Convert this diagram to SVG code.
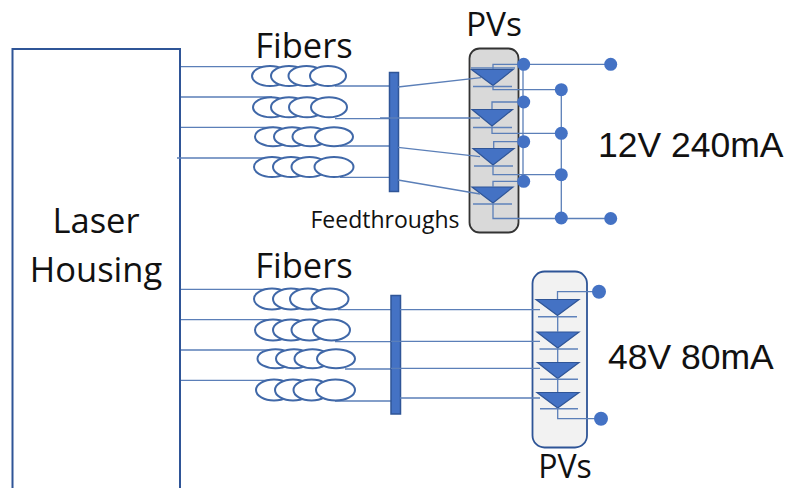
<svg xmlns="http://www.w3.org/2000/svg" width="787" height="488" viewBox="0 0 787 488">
<style>
.t{font-family:"Open Sans","Noto Sans",sans-serif;fill:#111}
.a{font-family:"Liberation Sans",Arial,sans-serif;fill:#111}
.h{fill:none;stroke:#2f5597;stroke-width:2}
.e{fill:#fff;stroke:#4068a8;stroke-width:2}
.w{fill:none;stroke:#5b7fb8;stroke-width:1.3}
.s{fill:none;stroke:#5f82bb;stroke-width:1.4}
.bar{fill:#4472c4;stroke:#2f5597;stroke-width:1.5}
.tri{fill:#4472c4;stroke:#2f5597;stroke-width:1.2}
.d{fill:#4472c4}
</style>
<rect width="787" height="488" fill="#fff"/>
<g id="laser-housing">
<path class="h" d="M180 490V49H12.500V490"/>
<text class="t" x="96" y="233" font-size="34.500" text-anchor="middle">Laser</text>
<text class="t" x="96" y="282" font-size="34.500" text-anchor="middle">Housing</text>
</g>
<g id="connectors">
<g class="w">
<path d="M181 66.700H272M181 97H272M181 127.300H274M177 158H274"/>
<path d="M335 86H389M335 118.700H389M340 146H389M340 177.300H389"/>
<path d="M181 289.300H272M181 319.700H272M181 350H276M181 380.300H276"/>
<path d="M338 309.700H391M335 341.700H391M345 369H391M335 401H391"/>
</g>
</g>
<g id="fibers-top">
<text class="t" x="304" y="58" font-size="34.500" text-anchor="middle">Fibers</text>
<g class="e">
<ellipse cx="270" cy="76" rx="18" ry="10"/><ellipse cx="289" cy="76" rx="18" ry="10"/><ellipse cx="306.500" cy="76" rx="18" ry="10"/><ellipse cx="328" cy="76" rx="18" ry="10"/>
<ellipse cx="271" cy="107.300" rx="18" ry="10"/><ellipse cx="289" cy="107.300" rx="18" ry="10"/><ellipse cx="307" cy="107.300" rx="18" ry="10"/><ellipse cx="329" cy="107.300" rx="18" ry="10"/>
<ellipse cx="273" cy="136.700" rx="18" ry="9.500"/><ellipse cx="292" cy="136.700" rx="18" ry="9.500"/><ellipse cx="310.500" cy="136.700" rx="18" ry="9.500"/><ellipse cx="334" cy="136.700" rx="19" ry="9.500"/>
<ellipse cx="272" cy="167" rx="18" ry="10"/><ellipse cx="291" cy="167" rx="18" ry="10"/><ellipse cx="309.500" cy="167" rx="18" ry="10"/><ellipse cx="334" cy="167" rx="19.500" ry="10"/>
</g>
</g>
<g id="feedthrough-top"><rect class="bar" x="389.500" y="72.500" width="9" height="119"/></g>
<g id="feedthroughs-label"><text class="t" x="385" y="228" font-size="23" text-anchor="middle">Feedthroughs</text></g>
<g id="pv-top">
<rect x="469.500" y="48.500" width="49" height="184" rx="10" fill="#d9d9d9" stroke="#333" stroke-width="1.800"/>
<text class="t" x="494" y="36" font-size="33.500" text-anchor="middle">PVs</text>
<polygon class="tri" points="471.500,69.500 513,69.500 493,85.500"/>
<polygon class="tri" points="472,109.500 512.500,109.500 492,126"/>
<polygon class="tri" points="473,148.500 514,148.500 493,165"/>
<polygon class="tri" points="472,187 513,187 493,203"/>
<g class="s"><path d="M471 68H515M473 86.500H512M473 127.500H512M474 166H513M473 204H512"/></g>
</g>
<g id="fibers-bottom">
<text class="t" x="304" y="278" font-size="34.500" text-anchor="middle">Fibers</text>
<g class="e">
<ellipse cx="272" cy="299" rx="18" ry="10.500"/><ellipse cx="291" cy="299" rx="18" ry="10.500"/><ellipse cx="308" cy="299" rx="18" ry="10.500"/><ellipse cx="330" cy="299" rx="18.500" ry="10.500"/>
<ellipse cx="273" cy="330" rx="18" ry="10.500"/><ellipse cx="291" cy="330" rx="18" ry="10.500"/><ellipse cx="309.500" cy="330" rx="18" ry="10.500"/><ellipse cx="331.500" cy="330" rx="18.500" ry="10.500"/>
<ellipse cx="275.500" cy="358.700" rx="18" ry="9.500"/><ellipse cx="294" cy="358.700" rx="18" ry="9.500"/><ellipse cx="312.500" cy="358.700" rx="18" ry="9.500"/><ellipse cx="336" cy="358.700" rx="19" ry="9.500"/>
<ellipse cx="274" cy="390" rx="18" ry="10.500"/><ellipse cx="293" cy="390" rx="18" ry="10.500"/><ellipse cx="311.500" cy="390" rx="18" ry="10.500"/><ellipse cx="335.500" cy="390" rx="19.500" ry="10.500"/>
</g>
</g>
<g id="feedthrough-bottom"><rect class="bar" x="391" y="295.500" width="9.500" height="118.500"/></g>
<g id="pv-bottom">
<rect x="532.500" y="271.500" width="54.500" height="176" rx="12" fill="#f2f2f2" stroke="#2f5597" stroke-width="1.800"/>
<polygon class="tri" points="536,299.500 579,299.500 557.500,315.500"/>
<polygon class="tri" points="537,332 579,332 557.700,348"/>
<polygon class="tri" points="537.500,362.500 579,362.500 557.700,378.500"/>
<polygon class="tri" points="537,392.500 579,392.500 557.700,408"/>
<g class="s"><path d="M538 316.700H577M539.500 349H578M540 379.300H578M540 408.700H578"/></g>
<text class="t" x="565" y="478" font-size="32" text-anchor="middle">PVs</text>
</g>
<g id="wiring">
<g class="w">
<path d="M398 87L481 77.700M380 118H480M398 147.300L480 156.700M398 180L480 194"/>
<path d="M400 309.700H540M391 341.300H540M391 368.300H540M400 398H540"/>
<path d="M493 69V64.300H611M523 64.300V181.300"/>
<path d="M493 86V89.700H561M492 109V102H524M492 126V133.300H561M493.700 148V141.700H524M493 165V174.700H561M493 187V181.300H524M493 203V218.500H611M561.300 89.700V218.500"/>
<path d="M557.500 299V291.700H599M557.700 316V332M557.700 348V362M557.700 379V392M557.700 408V418.700H601"/>
</g>
<g class="d">
<circle cx="523.700" cy="64.300" r="6.500"/><circle cx="610.700" cy="64.300" r="6.500"/>
<circle cx="523.700" cy="102" r="6.500"/><circle cx="523.700" cy="141.700" r="6.500"/><circle cx="523.700" cy="181.300" r="6.500"/>
<circle cx="561.300" cy="89.700" r="6.500"/><circle cx="561.300" cy="133.300" r="6.500"/><circle cx="561.300" cy="174.700" r="6.500"/><circle cx="561.300" cy="218" r="6.500"/><circle cx="610.700" cy="218.500" r="6.500"/>
<circle cx="599" cy="291.700" r="7"/><circle cx="601" cy="418.700" r="7"/>
</g>
</g>
<g id="label-12v"><text class="a" x="598" y="157" font-size="35.500">12V 240mA</text></g>
<g id="label-48v"><text class="a" x="608" y="369" font-size="35.500">48V 80mA</text></g>
</svg>
